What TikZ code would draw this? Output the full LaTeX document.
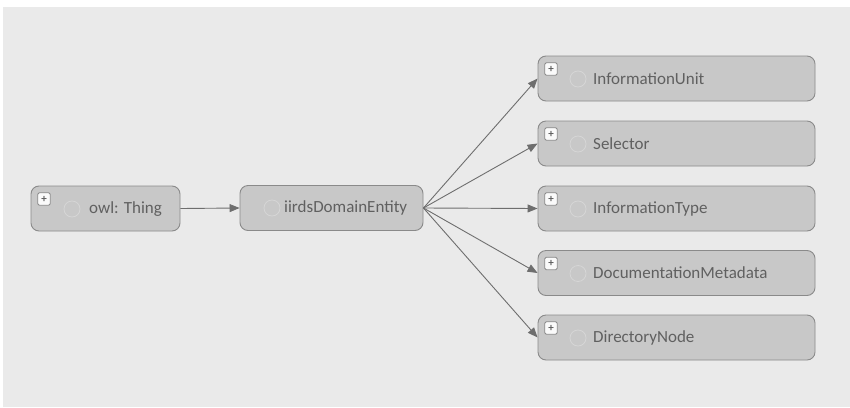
\documentclass[tikz,border=0pt]{standalone}
\usepackage{fontspec}
\setmainfont{Carlito}
\usetikzlibrary{arrows.meta}
\definecolor{panel}{HTML}{EAEAEA}
\definecolor{boxfill}{HTML}{C8C8C8}
\definecolor{boxline}{HTML}{8A8A8A}
\definecolor{labeltext}{HTML}{606060}
\definecolor{ringline}{HTML}{D6D6D6}
\definecolor{edgeline}{HTML}{6E6E6E}
\tikzset{
  classbox/.style={draw=boxline, fill=boxfill, line width=0.9pt, rounded corners=8pt,
    minimum height=45pt, inner sep=0pt},
  plusbox/.style={draw=boxline, fill=white!90!boxfill, line width=0.8pt, rounded corners=1.5pt,
    minimum size=12.5pt, inner sep=0pt, font=\fontsize{11}{11}\selectfont\bfseries, text=labeltext},
  ring/.style={draw=ringline, line width=0.8pt, circle, minimum size=16pt, inner sep=0pt},
  classlabel/.style={anchor=west, inner sep=0pt, text=labeltext, font=\fontsize{17}{19}\selectfont},
  edge/.style={draw=edgeline, line width=0.9pt, -{Triangle[length=10pt,width=8pt]}}
}
\begin{document}
\begin{tikzpicture}[x=1pt,y=-1pt]
\useasboundingbox (0,0) rectangle (850,407);
\fill[panel] (3,7) rectangle (850,407);

% root class
\node[classbox, minimum width=149pt] (thing) at (105.5,208.5) {};
\node[plusbox] (thingplus) at (44,199) {+};
\node[ring] (thingring) at (72,209) {};
\node[classlabel] (thinglabel) at (89,209) {owl: Thing};

% domain entity
\node[classbox, minimum width=183pt] (entity) at (331.5,208) {};
\node[ring] (entityring) at (272,208) {};
\node[classlabel] (entitylabel) at (284,208) {iirdsDomainEntity};

% subclasses
\foreach \nm/\yy/\txt in {unit/78.5/InformationUnit, sel/143.5/Selector,
    itype/208.5/InformationType, meta/273/DocumentationMetadata, dir/337.5/DirectoryNode}{
  \node[classbox, minimum width=277pt] (\nm) at (676.5,\yy) {};
  \node[plusbox] (\nm plus) at (551,\yy-9.5) {+};
  \node[ring] (\nm ring) at (578,\yy+0.5) {};
  \node[classlabel] (\nm label) at (593,\yy) {\txt};
}

% subclass edges
\draw[edge] (thing.east) -- (entity.west);
\foreach \nm in {unit, sel, itype, meta, dir}{
  \draw[edge] (entity.east) -- (\nm.west);
}
\end{tikzpicture}
\end{document}
